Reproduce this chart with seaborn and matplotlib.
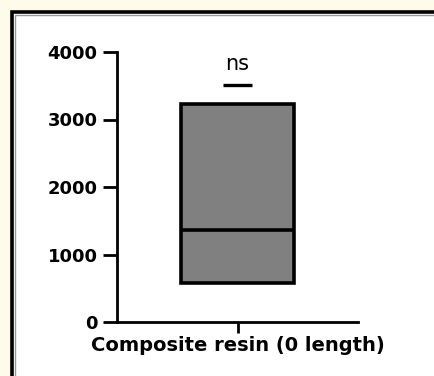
import pandas as pd
import seaborn as sns
import matplotlib.pyplot as plt
from matplotlib.patches import Rectangle

# Floating bar (min / line / max)
groups = ["Composite resin (0 length)"]
box_low = [585]
box_mid = [1363]
box_high = [3237]
sig_label = "ns"
sig_y = 3510
y_ticks = [0, 1000, 2000, 3000, 4000]

# expand to points so that Q1=min, Q3=max, median=mid
rows = []
for g, lo, mid, hi in zip(groups, box_low, box_mid, box_high):
    for v in [lo, lo, mid, hi, hi]:
        rows.append([g, v])
data = pd.DataFrame(rows, columns=["Group", "Value"])

sns.set_style("ticks")
plt.rcParams['font.family'] = ['DejaVu Sans']
plt.rcParams['text.color'] = 'black'
plt.rcParams['axes.edgecolor'] = 'black'
plt.rcParams['xtick.color'] = 'black'
plt.rcParams['ytick.color'] = 'black'

fig = plt.figure(figsize=(4.34, 3.76), dpi=100, facecolor="#fffbea")
# white panel with dark frame
fig.patches.append(Rectangle((12 / 434, -0.1), 1.2, 1 - 12 / 376 + 0.1,
                             transform=fig.transFigure, facecolor="white",
                             edgecolor="black", linewidth=2.6, zorder=-2))
fig.patches.append(Rectangle((15 / 434, -0.1), 1.2, 1 - 15 / 376 + 0.1,
                             transform=fig.transFigure, facecolor="none",
                             edgecolor="#999999", linewidth=1, zorder=-1))

ax = fig.add_axes([117 / 434, 1 - 322 / 376, 241 / 434, 270 / 376])
ax.patch.set_alpha(0)

line_kw = dict(color="black", linewidth=2.6)
sns.boxplot(data=data, x="Group", y="Value", ax=ax, width=0.465,
            whis=(0, 100), showcaps=False, fliersize=0,
            boxprops=dict(facecolor="#808080", edgecolor="black", linewidth=2.6),
            medianprops=line_kw, whiskerprops=line_kw, zorder=3)

# significance mark
ax.plot([-0.062, 0.062], [sig_y, sig_y], color="black", linewidth=2.4, solid_capstyle="butt")
ax.text(0, sig_y + 170, sig_label, ha="center", va="bottom", fontsize=15)

ax.set_xlim(-0.5, 0.5)
ax.set_ylim(0, 4000)
ax.set_yticks(y_ticks)
ax.set_xlabel("")
ax.set_ylabel("")
sns.despine(ax=ax)
for s in ["left", "bottom"]:
    ax.spines[s].set_linewidth(2)
ax.tick_params(axis="y", length=10, width=2, pad=4, labelsize=13)
ax.tick_params(axis="x", length=8, width=2, pad=2, labelsize=14)
for lab in ax.get_yticklabels() + ax.get_xticklabels():
    lab.set_fontweight("bold")

fig.savefig("out.png", dpi=100, facecolor=fig.get_facecolor())
